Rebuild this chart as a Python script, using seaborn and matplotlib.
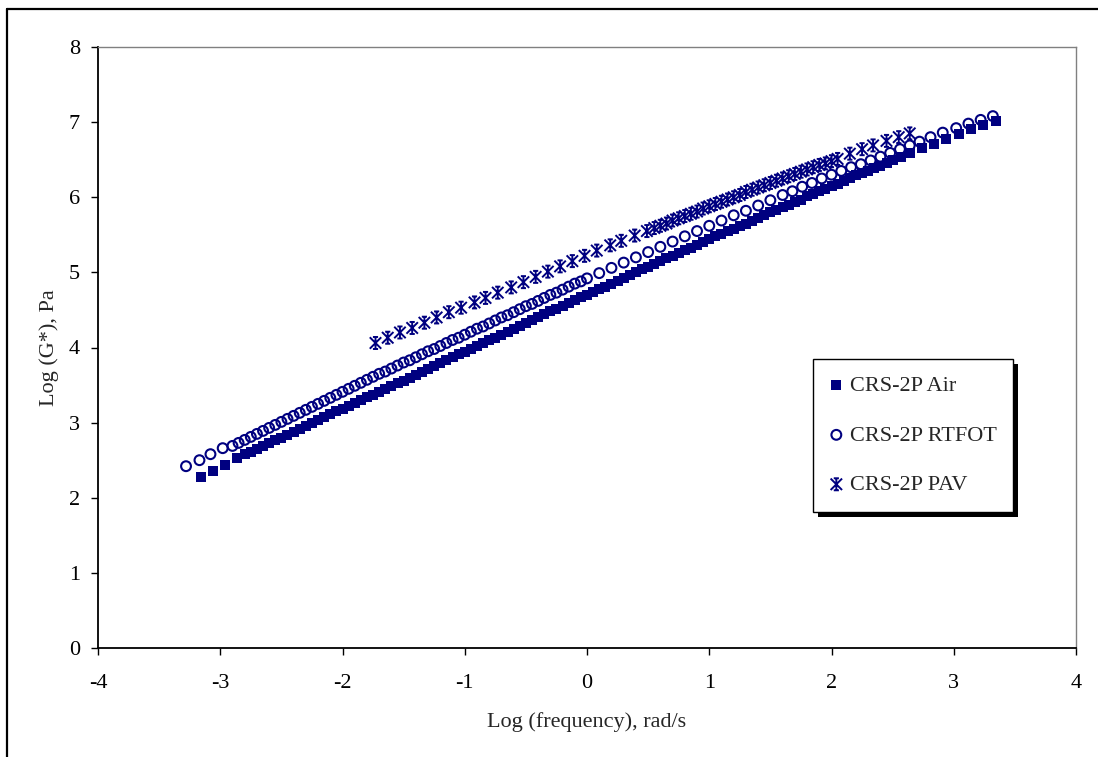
import matplotlib
matplotlib.use("Agg")
import matplotlib.pyplot as plt
import seaborn as sns
from matplotlib.path import Path
from matplotlib.patches import Rectangle
from matplotlib.lines import Line2D
from matplotlib.transforms import IdentityTransform

# ---- master-curve data: log10(angular frequency, rad/s) vs log10(|G*|, Pa) ----
air_logf = [-3.16, -3.06, -2.96, -2.86,
            -2.80, -2.75, -2.70, -2.65, -2.60, -2.55, -2.50, -2.45, -2.40, -2.35,
            -2.30, -2.25, -2.20, -2.15, -2.10, -2.05, -2.00, -1.95, -1.90, -1.85,
            -1.80, -1.75, -1.70, -1.65, -1.60, -1.55, -1.50, -1.45, -1.40, -1.35,
            -1.30, -1.25, -1.20, -1.15, -1.10, -1.05, -1.00, -0.95, -0.90, -0.85,
            -0.80, -0.75, -0.70, -0.65, -0.60, -0.55, -0.50, -0.45, -0.40, -0.35,
            -0.30, -0.25, -0.20, -0.15, -0.10, -0.05, 0.00, 0.05, 0.10, 0.15,
            0.20, 0.25, 0.30, 0.35, 0.40, 0.45, 0.50, 0.55, 0.60, 0.65,
            0.70, 0.75, 0.80, 0.85, 0.90, 0.95, 1.00, 1.05, 1.10, 1.15,
            1.20, 1.25, 1.30, 1.35, 1.40, 1.45, 1.50, 1.55, 1.60, 1.65,
            1.70, 1.75, 1.80, 1.85, 1.90, 1.95, 2.00, 2.05, 2.10, 2.15,
            2.20, 2.25, 2.30, 2.35, 2.40, 2.45, 2.50,
            2.57, 2.64, 2.74, 2.84, 2.94, 3.04, 3.14, 3.24, 3.345]
air_logg = [2.28, 2.35, 2.43, 2.53,
            2.58, 2.61, 2.65, 2.69, 2.73, 2.77, 2.80, 2.84, 2.88, 2.92,
            2.96, 2.99, 3.03, 3.07, 3.11, 3.15, 3.18, 3.22, 3.26, 3.30,
            3.34, 3.37, 3.41, 3.45, 3.49, 3.53, 3.56, 3.60, 3.64, 3.68,
            3.72, 3.75, 3.79, 3.83, 3.87, 3.91, 3.94, 3.98, 4.02, 4.06,
            4.10, 4.13, 4.17, 4.21, 4.25, 4.29, 4.32, 4.36, 4.40, 4.44,
            4.48, 4.51, 4.55, 4.59, 4.63, 4.67, 4.70, 4.74, 4.78, 4.81,
            4.85, 4.89, 4.93, 4.96, 5.00, 5.04, 5.07, 5.11, 5.15, 5.19,
            5.22, 5.26, 5.30, 5.33, 5.37, 5.41, 5.44, 5.48, 5.51, 5.55,
            5.58, 5.62, 5.65, 5.69, 5.72, 5.76, 5.80, 5.83, 5.87, 5.90,
            5.94, 5.97, 6.01, 6.04, 6.08, 6.11, 6.15, 6.18, 6.22, 6.25,
            6.29, 6.32, 6.35, 6.39, 6.42, 6.46, 6.49,
            6.54, 6.59, 6.65, 6.71, 6.77, 6.84, 6.91, 6.96, 7.02]

rtfot_logf = [-3.28, -3.17, -3.08, -2.98,
              -2.90, -2.85, -2.80, -2.75, -2.70, -2.65, -2.60, -2.55, -2.50, -2.45,
              -2.40, -2.35, -2.30, -2.25, -2.20, -2.15, -2.10, -2.05, -2.00, -1.95,
              -1.90, -1.85, -1.80, -1.75, -1.70, -1.65, -1.60, -1.55, -1.50, -1.45,
              -1.40, -1.35, -1.30, -1.25, -1.20, -1.15, -1.10, -1.05, -1.00, -0.95,
              -0.90, -0.85, -0.80, -0.75, -0.70, -0.65, -0.60, -0.55, -0.50, -0.45,
              -0.40, -0.35, -0.30, -0.25, -0.20, -0.15, -0.10, -0.05,
              0.00, 0.10, 0.20, 0.30, 0.40, 0.50, 0.60, 0.70, 0.80, 0.90,
              1.00, 1.10, 1.20, 1.30, 1.40, 1.50, 1.60,
              1.68, 1.76, 1.84, 1.92, 2.00, 2.08, 2.16, 2.24, 2.32, 2.40,
              2.48, 2.56, 2.64, 2.72,
              2.81, 2.91, 3.02, 3.12, 3.22, 3.32]
rtfot_logg = [2.42, 2.50, 2.58, 2.66,
              2.69, 2.73, 2.77, 2.81, 2.85, 2.89, 2.93, 2.97, 3.01, 3.05,
              3.09, 3.13, 3.17, 3.21, 3.25, 3.29, 3.33, 3.37, 3.41, 3.45,
              3.49, 3.53, 3.57, 3.61, 3.65, 3.68, 3.72, 3.76, 3.80, 3.83,
              3.87, 3.91, 3.95, 3.98, 4.02, 4.06, 4.10, 4.13, 4.17, 4.21,
              4.25, 4.28, 4.32, 4.36, 4.40, 4.43, 4.47, 4.51, 4.55, 4.58,
              4.62, 4.66, 4.70, 4.73, 4.77, 4.81, 4.85, 4.88,
              4.92, 4.99, 5.06, 5.13, 5.20, 5.27, 5.34, 5.41, 5.48, 5.55,
              5.62, 5.69, 5.76, 5.82, 5.89, 5.96, 6.03,
              6.08, 6.14, 6.19, 6.25, 6.30, 6.35, 6.40, 6.44, 6.49, 6.54,
              6.59, 6.64, 6.69, 6.74,
              6.80, 6.86, 6.92, 6.98, 7.03, 7.08]

pav_logf = [-1.73, -1.63, -1.53, -1.43, -1.33, -1.23, -1.13, -1.03, -0.92, -0.83,
            -0.73, -0.62, -0.52, -0.42, -0.32, -0.22, -0.12, -0.02, 0.08, 0.19,
            0.28, 0.39, 0.49,
            0.55, 0.60, 0.65, 0.70, 0.75, 0.80, 0.85, 0.90, 0.95, 1.00,
            1.05, 1.10, 1.15, 1.20, 1.25, 1.30, 1.35, 1.40, 1.45, 1.50,
            1.55, 1.60, 1.65, 1.70, 1.75, 1.80, 1.85, 1.90, 1.95, 2.00,
            2.05,
            2.15, 2.25, 2.34, 2.45, 2.55, 2.64]
pav_logg = [4.06, 4.13, 4.20, 4.26, 4.33, 4.40, 4.47, 4.53, 4.60, 4.66,
            4.73, 4.80, 4.87, 4.94, 5.01, 5.08, 5.15, 5.22, 5.29, 5.36,
            5.42, 5.49, 5.55,
            5.59, 5.62, 5.65, 5.69, 5.72, 5.75, 5.78, 5.81, 5.85, 5.88,
            5.91, 5.94, 5.97, 6.00, 6.03, 6.07, 6.10, 6.13, 6.16, 6.19,
            6.22, 6.25, 6.28, 6.31, 6.34, 6.37, 6.40, 6.43, 6.45, 6.48,
            6.51,
            6.58, 6.64, 6.69, 6.75, 6.80, 6.85]

series_labels = ["CRS-2P Air", "CRS-2P RTFOT", "CRS-2P PAV"]
x_ticks = [-4, -3, -2, -1, 0, 1, 2, 3, 4]
y_ticks = [0, 1, 2, 3, 4, 5, 6, 7, 8]

# ---- style ----
sns.set_style("white")
plt.rcParams["font.family"] = ["Liberation Serif", "DejaVu Serif"]
plt.rcParams["font.size"] = 16

navy = "#000080"
W, H = 1098, 757

fig = plt.figure(figsize=(W / 100, H / 100), dpi=100)
fig.patch.set_facecolor("white")
ax = fig.add_axes([98 / W, 1 - 648 / H, (1076 - 98) / W, (648 - 47) / H])

# asterisk marker: X with a vertical stroke and short caps
M, L = Path.MOVETO, Path.LINETO
star_path = Path(
    [(-1, -1), (1, 1), (-1, 1), (1, -1), (0, -1.05), (0, 1.05),
     (-0.45, 1.05), (0.45, 1.05), (-0.45, -1.05), (0.45, -1.05)],
    [M, L, M, L, M, L, M, L, M, L],
)

sns.scatterplot(x=rtfot_logf, y=rtfot_logg, ax=ax, marker="o", s=50,
                facecolor="none", edgecolor=navy, linewidth=1.5,
                label=series_labels[1], zorder=3)
sns.scatterplot(x=air_logf, y=air_logg, ax=ax, marker="s", s=48,
                color=navy, edgecolor=navy, linewidth=0,
                label=series_labels[0], zorder=4)
sns.scatterplot(x=pav_logf, y=pav_logg, ax=ax, marker=star_path, s=75,
                facecolor="none", edgecolor=navy, linewidth=1.4,
                label=series_labels[2], zorder=3)

ax.set_xlim(-4, 4)
ax.set_ylim(0, 8)
ax.set_xticks(x_ticks)
ax.set_yticks(y_ticks)
ax.set_xticklabels([str(v) for v in x_ticks])
ax.set_yticklabels([str(v) for v in y_ticks])
ax.tick_params(axis="both", direction="out", length=5, width=1, color="black",
               labelsize=16, labelcolor="black", left=True, bottom=True)
ax.tick_params(axis="y", pad=8)
ax.tick_params(axis="x", pad=14)

for side in ("left", "bottom"):
    ax.spines[side].set_color("black")
    ax.spines[side].set_linewidth(1.3)
for side in ("top", "right"):
    ax.spines[side].set_color("#808080")
    ax.spines[side].set_linewidth(1.0)
ax.grid(False)

ax.set_xlabel("Log (frequency), rad/s", fontsize=16)
ax.set_ylabel("Log (G*), Pa", fontsize=16)
ax.xaxis.set_label_coords(0.5, -0.106)
ax.yaxis.set_label_coords(-0.040, 0.5)

# legend in the given series order, with a solid drop shadow
handles, labels = ax.get_legend_handles_labels()
order = [labels.index(lbl) for lbl in series_labels]
leg = ax.legend([handles[i] for i in order], [labels[i] for i in order],
                loc="upper left", bbox_to_anchor=(813 / W, 1 - 359 / H),
                bbox_transform=fig.transFigure, fontsize=16,
                frameon=True, fancybox=False, edgecolor="black",
                framealpha=1, borderpad=0.75, labelspacing=1.3,
                handlelength=0.6, handletextpad=0.3, borderaxespad=0)
leg.get_frame().set_linewidth(1.0)
leg.set_zorder(6)

fig.canvas.draw()
bb = leg.get_window_extent()
shadow = Rectangle((bb.x0 + 5, bb.y0 - 5), bb.width, bb.height,
                   transform=IdentityTransform(), facecolor="black",
                   edgecolor="none", clip_on=False, zorder=5.5)
ax.add_patch(shadow)

# outer chart frame (left and top edges)
fig.add_artist(Line2D([7 / W, 7 / W], [0, 1 - 9 / H], transform=fig.transFigure,
                      color="black", linewidth=1.6))
fig.add_artist(Line2D([7 / W, 1], [1 - 9 / H, 1 - 9 / H], transform=fig.transFigure,
                      color="black", linewidth=1.6))

fig.savefig("out.png", dpi=100, facecolor="white")
